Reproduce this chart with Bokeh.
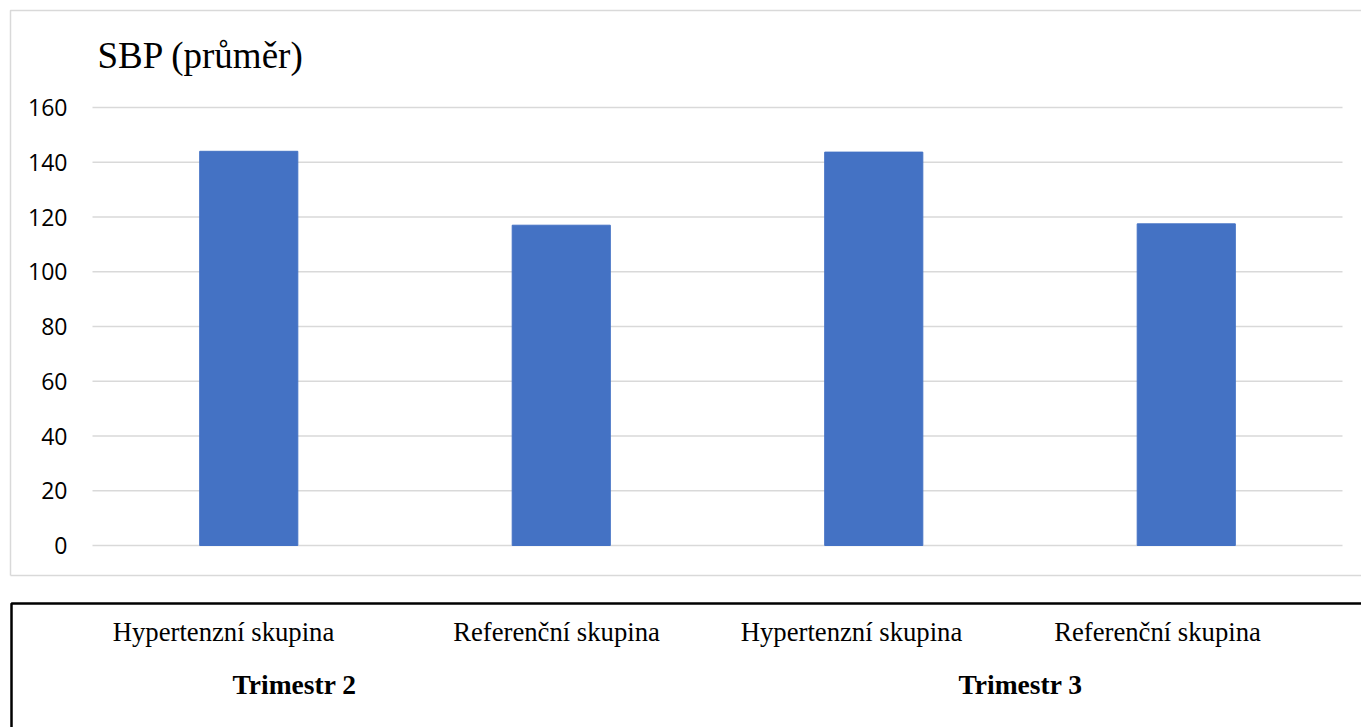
from bokeh.plotting import figure
from bokeh.models import Range1d
from bokeh.core.properties import value
from bokeh.embed import file_html
from bokeh.resources import INLINE

# ---- data ----
trimesters = ["Trimestr 2", "Trimestr 3"]
groups = ["Hypertenzní skupina", "Referenční skupina",
          "Hypertenzní skupina", "Referenční skupina"]
sbp_mean = [144.0, 117.0, 143.7, 117.5]
y_ticks = [0, 20, 40, 60, 80, 100, 120, 140, 160]
chart_title = "SBP (průměr)"

# ---- layout (canvas pixels) ----
W, H = 1361, 727
PLOT_L, PLOT_R, PLOT_T, PLOT_B = 92, 1342, 107, 545
BAR_COLOR = "#4472C4"
GRID_COLOR = "#d9d9d9"
SERIF = "Liberation Serif"
SANS = "Open Sans"

n = len(sbp_mean)
px_per_cat = (PLOT_R - PLOT_L) / n
px_per_unit = (PLOT_B - PLOT_T) / y_ticks[-1]

# data ranges cover the whole canvas; the plot area spans 0..n and 0..160
x_range = Range1d(-PLOT_L / px_per_cat, (W - PLOT_L) / px_per_cat)
y_range = Range1d(-(H - PLOT_B) / px_per_unit, PLOT_B / px_per_unit)

p = figure(width=W, height=H, x_range=x_range, y_range=y_range,
           min_border=0, output_backend="svg", toolbar_location=None)
p.axis.visible = False
p.grid.visible = False
p.outline_line_color = None
p.background_fill_color = "white"
p.border_fill_color = "white"

# second coordinate system in canvas pixels (y grows downwards) for the frames
p.extra_x_ranges = {"px": Range1d(0, W)}
p.extra_y_ranges = {"px": Range1d(H, 0)}
PX = dict(x_range_name="px", y_range_name="px")

# chart area border
p.multi_line(xs=[[10, 10, W + 5], [10, W + 5]], ys=[[575, 10, 10], [575, 575]],
             line_color=GRID_COLOR, line_width=1.5, **PX)

# horizontal grid lines at the ticks
p.segment(x0=0, x1=n, y0=y_ticks, y1=y_ticks,
          line_color=GRID_COLOR, line_width=1.5)

# y tick labels
p.text(x=(67 - PLOT_L) / px_per_cat, y=y_ticks, text=[str(t) for t in y_ticks],
       text_font=value(SANS), text_font_size="23px", text_color="#000000",
       text_align="right", text_baseline="middle")

# bars
cat_x = [i + 0.5 for i in range(n)]
p.vbar(x=cat_x, top=sbp_mean, bottom=0, width=0.314,
       fill_color=BAR_COLOR, line_color=BAR_COLOR)

# title
p.text(x=[97], y=[55], text=[chart_title], text_font=value(SERIF),
       text_font_size="37px", text_color="#000000",
       text_align="left", text_baseline="alphabetic", **PX)

# category table below the chart
p.multi_line(xs=[[W + 5, 11, 11]], ys=[[603, 603, H + 5]],
             line_color="#000000", line_width=2.5, **PX)

group_centers = [223, 556, 851, 1157]
p.text(x=group_centers, y=[631] * len(groups), text=groups,
       text_font=value(SERIF), text_font_size="26.7px", text_color="#000000",
       text_align="center", text_baseline="alphabetic", **PX)

trimester_centers = [294, 1020]
p.text(x=trimester_centers, y=[684] * len(trimesters), text=trimesters,
       text_font=value(SERIF), text_font_size="27.5px", text_font_style="bold",
       text_color="#000000", text_align="center", text_baseline="alphabetic",
       **PX)

open("out.html", "w").write(file_html(p, INLINE))
